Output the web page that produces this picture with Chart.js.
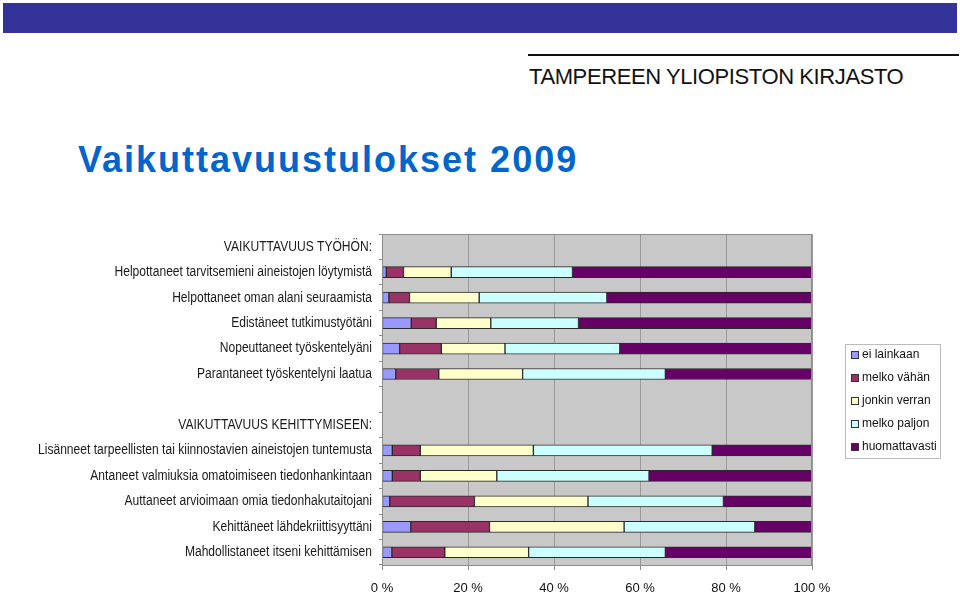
<!DOCTYPE html>
<html>
<head>
<meta charset="utf-8">
<script src="https://cdn.jsdelivr.net/npm/chart.js@4"></script>
<style>
  body { margin: 0; background: #fff; }
  #page { position: relative; width: 960px; height: 613px; overflow: hidden; }
  .band { position: absolute; left: 3px; top: 3px; width: 954px; height: 30px; background: #333399; }
  .rule { position: absolute; left: 528px; top: 54px; width: 431px; height: 2px; background: #111; }
  .lib { position: absolute; left: 529px; top: 66px; font: 22px/22px "Liberation Sans", Arial, sans-serif; letter-spacing: -0.4px; color: #111; white-space: nowrap; }
  .title { position: absolute; left: 78px; top: 140px; font: bold 36px/40px "Liberation Sans", Arial, sans-serif; letter-spacing: 2px; color: #0066cc; white-space: nowrap; }
  canvas { position: absolute; left: 0; top: 0; }
</style>
</head>
<body>
<div id="page">
  <div class="band"></div>
  <div class="rule"></div>
  <div class="lib">TAMPEREEN YLIOPISTON KIRJASTO</div>
  <div class="title">Vaikuttavuustulokset 2009</div>
  <canvas id="chart" width="960" height="613"></canvas>
</div>
<script>
const categories = [
  'VAIKUTTAVUUS TYÖHÖN:',
  'Helpottaneet tarvitsemieni aineistojen löytymistä',
  'Helpottaneet oman alani seuraamista',
  'Edistäneet tutkimustyötäni',
  'Nopeuttaneet työskentelyäni',
  'Parantaneet työskentelyni laatua',
  '',
  'VAIKUTTAVUUS KEHITTYMISEEN:',
  'Lisänneet tarpeellisten tai kiinnostavien aineistojen tuntemusta',
  'Antaneet valmiuksia omatoimiseen tiedonhankintaan',
  'Auttaneet arvioimaan omia tiedonhakutaitojani',
  'Kehittäneet lähdekriittisyyttäni',
  'Mahdollistaneet itseni kehittämisen'
];

const eiLainkaan    = [null, 1.0, 1.6, 6.8, 4.1, 3.2, null, null, 2.4, 2.4, 1.8, 6.7, 2.3];
const melkoVahan    = [null, 4.0, 4.8, 5.8, 9.7, 10.0, null, null, 6.5, 6.5, 19.7, 18.3, 12.3];
const jonkinVerran  = [null, 11.1, 16.2, 12.7, 14.8, 19.5, null, null, 26.3, 17.8, 26.4, 31.3, 19.5];
const melkoPaljon   = [null, 28.2, 29.7, 20.4, 26.7, 33.2, null, null, 41.6, 35.4, 31.5, 30.4, 31.8];
const huomattavasti = [null, 55.7, 47.7, 54.3, 44.7, 34.1, null, null, 23.2, 37.9, 20.6, 13.3, 34.1];

const seriesNames = ['ei lainkaan', 'melko vähän', 'jonkin verran', 'melko paljon', 'huomattavasti'];
const seriesColors = ['#9999ff', '#993366', '#ffffcc', '#ccffff', '#660066'];
const xTicks = [0, 20, 40, 60, 80, 100];

const series = [eiLainkaan, melkoVahan, jonkinVerran, melkoPaljon, huomattavasti];

// grey plot background + frame
const plotFrame = {
  id: 'plotFrame',
  beforeDraw(chart) {
    const { ctx, chartArea: a } = chart;
    ctx.save();
    ctx.fillStyle = '#c8c8c8';
    ctx.fillRect(a.left, a.top, a.right - a.left, a.bottom - a.top);
    ctx.restore();
  },
  afterDraw(chart) {
    const { ctx, chartArea: a } = chart;
    ctx.save();
    ctx.strokeStyle = '#8c8c8c';
    ctx.lineWidth = 1;
    ctx.strokeRect(a.left + 0.5, a.top + 0.5, a.right - a.left - 1, a.bottom - a.top);
    ctx.restore();
  }
};

// category labels, squeezed like the narrow font of the original
const narrowLabels = {
  id: 'narrowLabels',
  afterDraw(chart) {
    const { ctx } = chart;
    const yScale = chart.scales.y;
    ctx.save();
    ctx.font = '14px "Liberation Sans", Arial, sans-serif';
    ctx.fillStyle = '#1a1a1a';
    ctx.textAlign = 'right';
    ctx.textBaseline = 'middle';
    const longest = categories.reduce((m, c) => Math.max(m, ctx.measureText(c).width), 0);
    const sx = 334 / longest;
    categories.forEach((c, i) => {
      const y = yScale.getPixelForTick(i);
      ctx.save();
      ctx.translate(372, y);
      ctx.scale(sx, 1);
      ctx.fillText(c, 0, 0);
      ctx.restore();
    });
    ctx.restore();
  }
};

// boxed legend on the right
const boxLegend = {
  id: 'boxLegend',
  afterDraw(chart) {
    const { ctx } = chart;
    const x = 845, y = 344, w = 95, h = 114;
    ctx.save();
    ctx.fillStyle = '#fff';
    ctx.fillRect(x, y, w, h);
    ctx.strokeStyle = '#bbb';
    ctx.lineWidth = 1;
    ctx.strokeRect(x + 0.5, y + 0.5, w, h);
    ctx.font = '12px "Liberation Sans", Arial, sans-serif';
    ctx.textBaseline = 'middle';
    chart.data.datasets.forEach((ds, i) => {
      const cy = 355 + i * 23;
      ctx.fillStyle = ds.backgroundColor;
      ctx.fillRect(851.5, cy - 3.5, 7, 7);
      ctx.strokeStyle = '#333';
      ctx.strokeRect(851.5, cy - 3.5, 7, 7);
      ctx.fillStyle = '#111';
      ctx.fillText(ds.label, 862, cy);
    });
    ctx.restore();
  }
};

new Chart(document.getElementById('chart'), {
  type: 'bar',
  data: {
    labels: categories,
    datasets: series.map((d, i) => ({
      label: seriesNames[i],
      data: d,
      backgroundColor: seriesColors[i],
      borderColor: '#2a2a2a',
      borderWidth: 1,
      borderSkipped: false,
      barThickness: 11
    }))
  },
  options: {
    indexAxis: 'y',
    responsive: false,
    animation: false,
    layout: { padding: { top: 234, right: 148, bottom: 0, left: 0 } },
    plugins: {
      legend: { display: false },
      tooltip: { enabled: false }
    },
    scales: {
      x: {
        stacked: true,
        min: 0,
        max: 100,
        afterFit: (s) => { s.height = 48; },
        afterBuildTicks: (s) => { s.ticks = xTicks.map(v => ({ value: v })); },
        border: { display: false },
        grid: { color: '#9a9a9a', tickLength: 5, tickColor: '#8c8c8c' },
        ticks: {
          padding: 11,
          color: '#111',
          font: { family: '"Liberation Sans", Arial, sans-serif', size: 13 },
          callback: (v) => v + ' %'
        }
      },
      y: {
        stacked: true,
        afterFit: (s) => { s.width = 382; },
        border: { display: false },
        grid: { drawOnChartArea: false, tickLength: 3, color: '#8c8c8c' },
        ticks: { display: false, autoSkip: false }
      }
    }
  },
  plugins: [plotFrame, narrowLabels, boxLegend]
});
</script>
</body>
</html>
